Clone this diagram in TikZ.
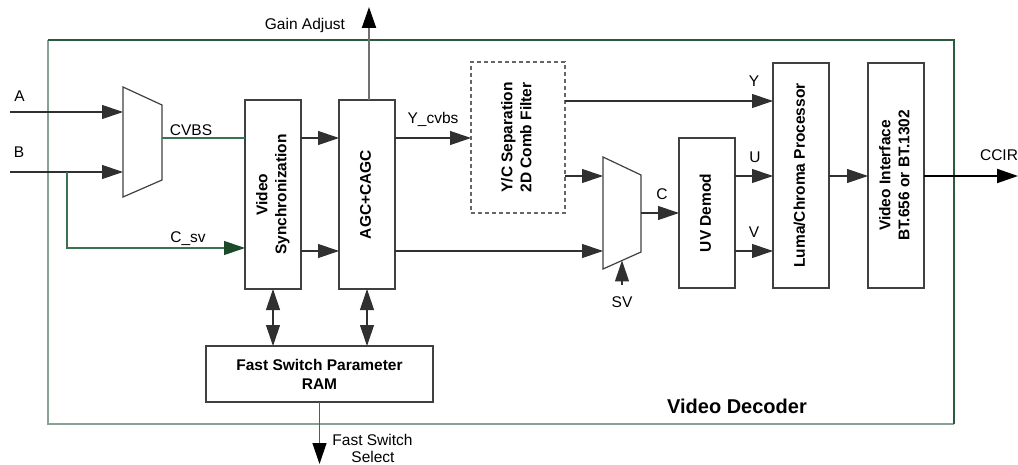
\documentclass[tikz,border=0pt]{standalone}
\usepackage{fontspec}
\setmainfont{Liberation Sans}
\usetikzlibrary{arrows.meta,calc}
\definecolor{boxc}{HTML}{404040}
\definecolor{linec}{HTML}{303030}
\definecolor{frameD}{HTML}{2C5A3C}
\definecolor{frameL}{HTML}{86A393}
\definecolor{gline}{HTML}{3B7352}
\definecolor{gtip}{HTML}{1D4A2B}
\definecolor{gaincol}{HTML}{707070}
\newcommand{\rotlines}[1]{\rotatebox{90}{\begin{tabular}{@{}c@{}}#1\end{tabular}}}
\begin{document}
\begin{tikzpicture}[x=1pt,y=-1pt,
  >={Triangle[length=21pt,width=14pt]},
  box/.style={draw=boxc,line width=1.3pt,fill=white,inner sep=0pt,outer sep=0pt,
    font=\fontsize{15.5}{19}\selectfont\bfseries},
  dbox/.style={box,draw=gray!80!black,dash pattern=on 4pt off 3pt,line width=1.2pt},
  muxs/.style={draw=boxc,line width=1.2pt},
  conn/.style={draw=linec,line width=1.1pt},
  gconn/.style={draw=gline,line width=1.1pt},
  lbl/.style={inner sep=0pt,anchor=base,font=\fontsize{15.5}{18}\selectfont},
]
\useasboundingbox (0,0) rectangle (1018,465);

% outer frame
\draw[frameL,line width=2pt] (48,40) -- (48,424) -- (954,424);
\draw[frameD,line width=1.2pt] (48,40) -- (954,40) -- (954,424);

% blocks
\node[box,minimum width=56pt,minimum height=189pt] (vs) at (273,194.5) {\rotlines{Video\\Synchronization}};
\node[box,minimum width=56pt,minimum height=189pt] (agc) at (367,194.5) {\rotlines{AGC+CAGC}};
\node[dbox,minimum width=94pt,minimum height=151pt] (yc) at (518,137.5) {\rotlines{Y/C Separation\\2D Comb Filter}};
\node[box,minimum width=56pt,minimum height=150pt] (uv) at (707,213) {\rotlines{UV Demod}};
\node[box,minimum width=56pt,minimum height=225pt] (luma) at (801,175.5) {\rotlines{Luma/Chroma Processor}};
\node[box,minimum width=56pt,minimum height=225pt] (vi) at (896,175.5) {\rotlines{Video Interface\\BT.656 or BT.1302}};
\node[box,minimum width=227pt,minimum height=56pt,align=center] (ram) at (319.5,374) {Fast Switch Parameter\\RAM};

% multiplexers
\draw[muxs] (123,87) -- (162,105) -- (162,180) -- (123,197) -- cycle;
\draw[muxs] (603,157) -- (641,175) -- (641,252) -- (603,269) -- cycle;
\coordinate (m1i1) at (123,112);
\coordinate (m1i2) at (123,172);
\coordinate (m1o) at (162,138);
\coordinate (m2i1) at (603,176);
\coordinate (m2i2) at (603,251);
\coordinate (m2o) at (641,213);
\coordinate (m2b) at (622,260.5);

% free ends
\coordinate (ain) at (10,112);
\coordinate (bin) at (10,172);
\coordinate (bbr) at (67,172);
\coordinate (gain) at (369,7);
\coordinate (ccir) at (1018,176);
\coordinate (svin) at (622,285);
\coordinate (fss) at (319.5,464);

% connectors
\draw[conn,->] (ain) -- (m1i1);
\draw[conn,->] (bin) -- (m1i2);
\draw[gconn,-{Triangle[length=21pt,width=14pt,color=gtip]}] (bbr) |- (vs.west |- 0,248);
\draw[gconn] (m1o) -- (vs.west |- m1o);
\draw[conn,->] (vs.east |- 0,138) -- (agc.west |- 0,138);
\draw[conn,->] (vs.east |- 0,251) -- (agc.west |- 0,251);
\draw[draw=gaincol,line width=2pt,-{Triangle[length=21pt,width=14pt,color=black]}] ([xshift=2pt]agc.north) -- (gain);
\draw[conn,->] (agc.east |- 0,138) -- (yc.west |- 0,138);
\draw[conn,->] (agc.east |- m2i2) -- (m2i2);
\draw[conn,->] (yc.east |- 0,101) -- (luma.west |- 0,101);
\draw[conn,->] (yc.east |- m2i1) -- (m2i1);
\draw[conn,->] (m2o) -- (uv.west |- m2o);
\draw[conn,->] (uv.east |- 0,176) -- (luma.west |- 0,176);
\draw[conn,->] (uv.east |- 0,251) -- (luma.west |- 0,251);
\draw[conn,->] (luma.east |- 0,176) -- (vi.west |- 0,176);
\draw[draw=black,line width=2pt,->] (vi.east |- 0,176) -- (ccir);
\draw[conn,->] (svin) -- (m2b);
\draw[conn,<->] (vs.south) -- (vs.south |- ram.north);
\draw[conn,<->] (agc.south) -- (agc.south |- ram.north);
\draw[draw=gray!70!black,line width=1.3pt,-{Triangle[length=21pt,width=14pt,color=black]}] (ram.south) -- (fss);

% labels
\node[lbl] (la) at (19.5,102) {A};
\node[lbl] (lb) at (19,158) {B};
\node[lbl] (lcvbs) at (191,136) {CVBS};
\node[lbl] (lcsv) at (188,243) {C\_sv};
\node[lbl] (lgain) at (305,30) {Gain Adjust};
\node[lbl] (lycvbs) at (433,124) {Y\_cvbs};
\node[lbl] (ly) at (754,87) {Y};
\node[lbl] (lu) at (755,163) {U};
\node[lbl] (lv) at (754,238) {V};
\node[lbl] (lc) at (662,200) {C};
\node[lbl] (lsv) at (622,308) {SV};
\node[lbl] (lccir) at (999,161) {CCIR};
\node[lbl] (lfs1) at (372.5,445) {Fast Switch};
\node[lbl] (lfs2) at (373,462) {Select};
\node[lbl,font=\fontsize{20}{24}\selectfont\bfseries] (ldec) at (737,413) {Video Decoder};
\end{tikzpicture}
\end{document}
